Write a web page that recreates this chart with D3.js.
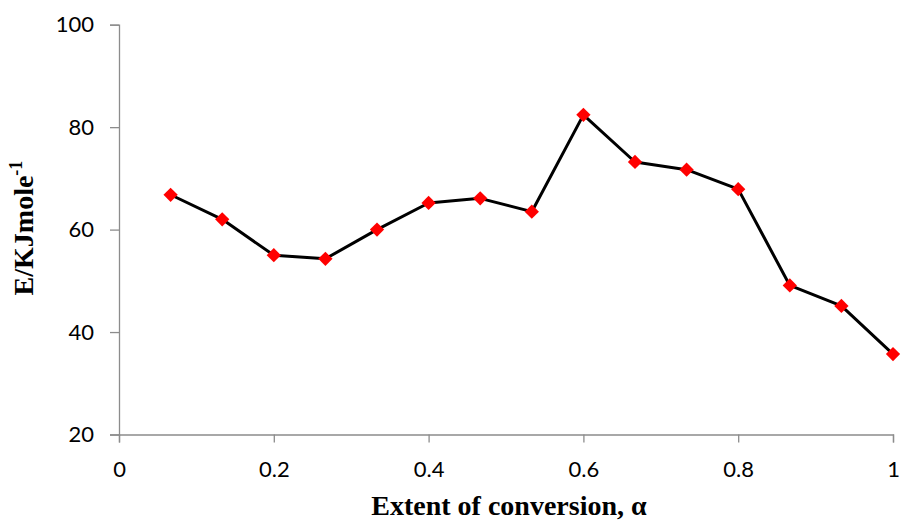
<!DOCTYPE html>
<html>
<head>
<meta charset="utf-8">
<script src="https://cdn.jsdelivr.net/npm/d3@7"></script>
<style>
  html, body { margin: 0; padding: 0; background: #fff; }
  svg { display: block; }
</style>
</head>
<body>
<svg id="chart" width="901" height="521"></svg>
<script>
// Extent of conversion (alpha) and activation energy E (kJ/mol)
const alpha = [1/15, 2/15, 3/15, 4/15, 5/15, 6/15, 7/15, 8/15, 9/15, 10/15, 11/15, 12/15, 13/15, 14/15, 1];
const energy = [66.8, 62.0, 55.0, 54.3, 60.0, 65.2, 66.1, 63.5, 82.4, 73.2, 71.7, 67.9, 49.1, 45.1, 35.7];
const xTicks = [0, 0.2, 0.4, 0.6, 0.8, 1];
const yTicks = [20, 40, 60, 80, 100];

const svg = d3.select("#chart");

const x = d3.scaleLinear().domain([0, 1]).range([119, 893]);
const y = d3.scaleLinear().domain([20, 100]).range([434.5, 24.7]);

const axisColor = "#8c8c8c";
const tickFont = "Lato, 'Open Sans', sans-serif";

// x axis
const gx = svg.append("g").attr("transform", `translate(0,${y(20)})`)
  .call(d3.axisBottom(x).tickValues(xTicks).tickFormat(d3.format("")).tickSize(8).tickPadding(19));
// y axis
const gy = svg.append("g").attr("transform", `translate(${x(0)},0)`)
  .call(d3.axisLeft(y).tickValues(yTicks).tickSize(9).tickPadding(16));

[gx, gy].forEach(g => {
  g.select(".domain").attr("stroke", axisColor).attr("stroke-width", 1.3);
  g.selectAll(".tick line").attr("stroke", axisColor).attr("stroke-width", 1.3);
  g.selectAll(".tick text").attr("fill", "#000")
    .style("font-family", tickFont).style("font-size", "22px");
});

// data line
const line = d3.line().x((d, i) => x(alpha[i])).y(d => y(d));
svg.append("path").datum(energy)
  .attr("d", line)
  .attr("fill", "none")
  .attr("stroke", "#000")
  .attr("stroke-width", 3)
  .attr("stroke-linejoin", "round");

// diamond markers
const sym = d3.symbol().type(d3.symbolDiamond2).size(130);
svg.append("g").selectAll("path").data(energy).join("path")
  .attr("transform", (d, i) => `translate(${x(alpha[i])},${y(d)})`)
  .attr("d", sym)
  .attr("fill", "#ff0000");

// axis titles
svg.append("text")
  .attr("x", 509)
  .attr("y", 515)
  .attr("text-anchor", "middle")
  .style("font-family", "'Liberation Serif', 'Times New Roman', serif")
  .style("font-weight", "bold")
  .style("font-size", "28px")
  .text("Extent of conversion, α");

const yt = svg.append("text")
  .attr("transform", `translate(33,228) rotate(-90)`)
  .attr("text-anchor", "middle")
  .style("font-family", "'Liberation Serif', 'Times New Roman', serif")
  .style("font-weight", "bold")
  .style("font-size", "28px");
yt.append("tspan").text("E/KJmole");
yt.append("tspan").attr("dy", -11).style("font-size", "18px").text("-1");
</script>
</body>
</html>
